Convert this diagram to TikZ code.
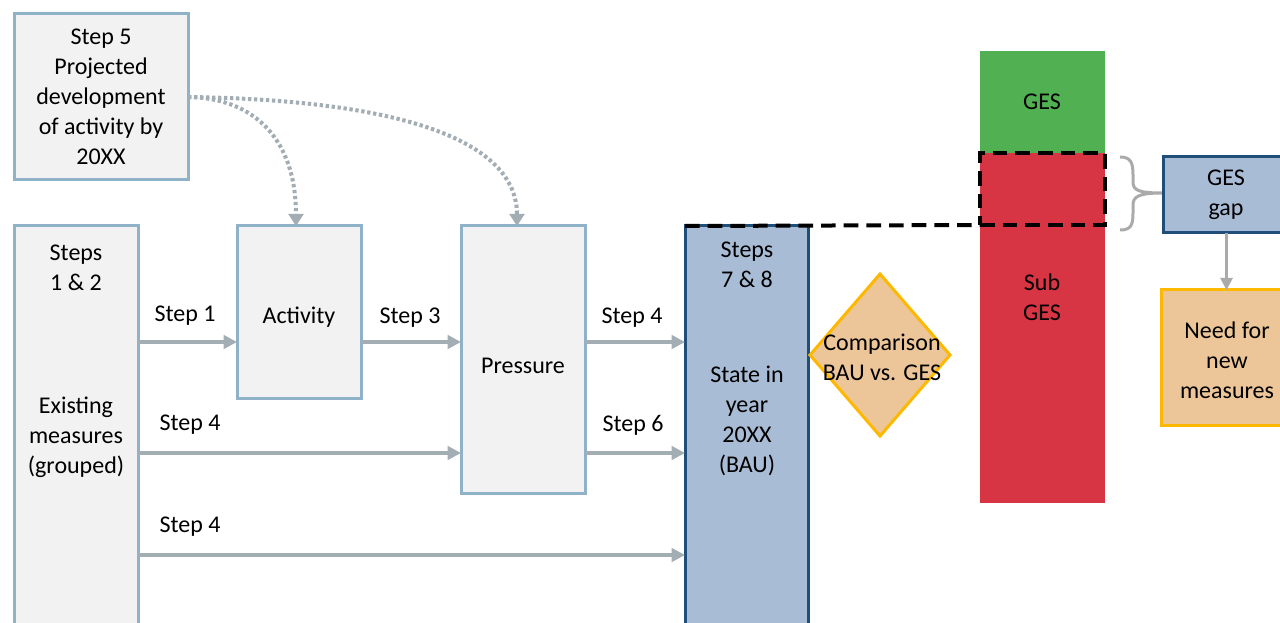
\documentclass[tikz,border=0pt]{standalone}
\usepackage{fontspec}
\setmainfont{Carlito}
\usetikzlibrary{arrows.meta,shapes.geometric}
\definecolor{boxc}{RGB}{143,178,200}
\definecolor{boxfill}{RGB}{242,242,242}
\definecolor{bluefill}{RGB}{169,188,214}
\definecolor{bluedark}{RGB}{31,78,121}
\definecolor{tanfill}{RGB}{236,198,152}
\definecolor{goldc}{RGB}{255,184,0}
\definecolor{gesgreen}{RGB}{80,176,82}
\definecolor{gesred}{RGB}{215,52,68}
\definecolor{arrc}{RGB}{163,173,180}
\definecolor{bracec}{RGB}{170,170,170}
\begin{document}
\begin{tikzpicture}[x=0.75pt,y=-0.75pt,
  font=\fontsize{18}{22.5}\selectfont,
  every node/.style={outer sep=0pt},
  gbox/.style={draw=boxc, fill=boxfill, line width=2.25pt, inner sep=0pt, anchor=north west, align=center},
  bbox/.style={draw=bluedark, fill=bluefill, line width=2.25pt, inner sep=0pt, anchor=north west, align=center},
  tbox/.style={draw=goldc, fill=tanfill, line width=2.25pt, inner sep=0pt, anchor=north west, align=center},
  bar/.style={inner sep=0pt, anchor=north west, align=center},
  txt/.style={align=center, inner sep=0pt},
  arr/.style={draw=arrc, line width=2.8pt, -{Triangle[length=10pt,width=10pt]}},
  arrg/.style={draw=bracec, line width=2pt, -{Triangle[length=9pt,width=9pt]}},
  dots/.style={draw=arrc, line width=3pt, dash pattern=on 2.5pt off 2pt, -{Triangle[length=9pt,width=11pt]}},
  blackdash/.style={draw=black, line width=3pt, dash pattern=on 11pt off 6pt},
]
\useasboundingbox (0,0) rectangle (1280,623);
\clip (0,0) rectangle (1280,623);

% boxes
\node[gbox, minimum width=174*0.75pt, minimum height=166*0.75pt] (s5) at (14,14)
  {Step 5\\Projected\\development\\of activity by\\20XX};
\node[gbox, minimum width=124*0.75pt, minimum height=500*0.75pt] (s12) at (14,226) {};
\node[gbox, minimum width=124*0.75pt, minimum height=172*0.75pt] (act) at (237,226) {};
\node[gbox, minimum width=124*0.75pt, minimum height=267*0.75pt] (pres) at (461,226) {};
\node[bbox, minimum width=123*0.75pt, minimum height=500*0.75pt] (state) at (685,226) {};

\node[txt] (s12a) at (76,268) {Steps\\1 \& 2};
\node[txt] (s12b) at (76,437) {Existing\\measures\\(grouped)};
\node[txt] (actt) at (299,317) {Activity};
\node[txt] (prest) at (523,366) {Pressure};
\node[txt] (sta) at (747,265) {Steps\\7 \& 8};
\node[txt] (stb) at (747,421) {State in\\year\\20XX\\(BAU)};

% GES bars
\node[bar, fill=gesgreen, minimum width=125*0.75pt, minimum height=102*0.75pt] (ges) at (980,51) {};
\node[bar, fill=gesred, minimum width=125*0.75pt, minimum height=350*0.75pt] (sub) at (980,153) {};
\node[txt] (gest) at (1042,102) {GES};
\node[txt] (subt) at (1042,297) {Sub\\GES};
\node[bar, blackdash, minimum width=125*0.75pt, minimum height=72*0.75pt] (gap) at (980,153) {};
\draw[blackdash] (state.north west) -- (gap.south west);

% diamond
\node[diamond, draw=goldc, fill=tanfill, line width=2.25pt, inner sep=0pt,
      minimum width=140*0.75pt, minimum height=162*0.75pt] (cmp) at (880,355) {};
\node[txt] (cmpt) at (882,357) {Comparison\\BAU vs. GES};

% brace
\draw[draw=bracec, line width=2.25pt]
  (1120,157) .. controls (1131,157) and (1133,163) .. (1133,175) -- (1133,182)
  .. controls (1133,190) and (1138,193) .. (1162,193)
  .. controls (1138,193) and (1133,197) .. (1133,205) -- (1133,213)
  .. controls (1133,225) and (1131,230) .. (1120,230);

% right boxes
\node[bbox, minimum width=127*0.75pt, minimum height=76*0.75pt] (gapbox) at (1163,157) {};
\node[txt] (gapt) at (1226,195) {GES\\gap};
\node[tbox, minimum width=129*0.75pt, minimum height=135*0.75pt] (need) at (1161,290) {};
\node[txt] (needt) at (1227,360) {Need for\\new\\measures};
\draw[arrg] (gapbox.south) -- (gapbox.south |- need.north);

% helper rows
\coordinate (r1) at (0,342);
\coordinate (r2) at (0,453);
\coordinate (r3) at (0,555);

% arrows
\draw[arr] (s12.east |- r1) -- (act.west |- r1);
\draw[arr] (act.east |- r1) -- (pres.west |- r1);
\draw[arr] (pres.east |- r1) -- (state.west |- r1);
\draw[arr] (s12.east |- r2) -- (pres.west |- r2);
\draw[arr] (pres.east |- r2) -- (state.west |- r2);
\draw[arr] (s12.east |- r3) -- (state.west |- r3);

\node[txt] (l1) at (185,316) {Step 1};
\node[txt] (l3) at (410,318) {Step 3};
\node[txt] (l4a) at (632,318) {Step 4};
\node[txt] (l4b) at (190,425) {Step 4};
\node[txt] (l6) at (633,425) {Step 6};
\node[txt] (l4c) at (190,527) {Step 4};

% dotted curves
\draw[dots] (s5.east) .. controls (255,98) and (296,140) .. ([xshift=-2.25pt]act.north);
\draw[dots] (s5.east) .. controls (400,100) and (517,140) .. ([xshift=-4.5pt]pres.north);
\end{tikzpicture}
\end{document}
